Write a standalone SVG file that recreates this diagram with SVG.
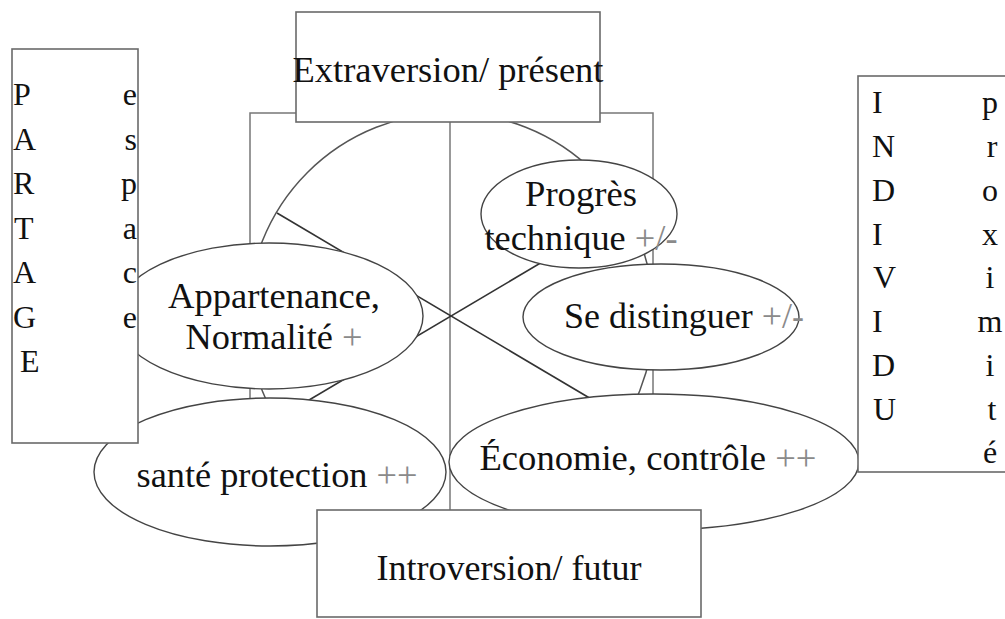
<svg xmlns="http://www.w3.org/2000/svg" width="1005" height="619" viewBox="0 0 1005 619">
<style>
text{font-family:"Liberation Serif","Times New Roman",serif;fill:#111}
.t36{font-size:36px}
.side{font-size:32px}
.mid{text-anchor:middle}
.end{text-anchor:end}
.pm{fill:#8a8a8a}
.box{fill:#fff;stroke:#6a6a6a;stroke-width:1.6}
.ell{fill:#fff;stroke:#444;stroke-width:1.4}
.frame{fill:none;stroke:#777;stroke-width:1.5}
.circ{fill:none;stroke:#555;stroke-width:1.5}
.diag{stroke:#333;stroke-width:1.6}
</style>
<rect width="1005" height="619" fill="#fff"/>
<g id="connectors">
<rect class="frame" x="250" y="113" width="403" height="406"/>
<line class="frame" x1="450" y1="113" x2="450" y2="519"/>
<circle class="circ" cx="451" cy="316" r="203"/>
<line class="diag" x1="277" y1="213" x2="625" y2="419"/>
<line class="diag" x1="277" y1="419" x2="625" y2="213"/>
</g>
<g id="progres">
<ellipse class="ell" cx="579" cy="214" rx="98" ry="54"/>
<text class="t36 mid" x="581" y="206" textLength="112" lengthAdjust="spacingAndGlyphs">Progrès</text>
<text class="t36 mid" x="581" y="250" textLength="193" lengthAdjust="spacingAndGlyphs">technique <tspan class="pm">+/-</tspan></text>
</g>
<g id="distinguer">
<ellipse class="ell" cx="661" cy="317" rx="138" ry="53"/>
<text class="t36 mid" x="684" y="328" textLength="240" lengthAdjust="spacingAndGlyphs">Se distinguer <tspan class="pm">+/-</tspan></text>
</g>
<g id="appartenance">
<ellipse class="ell" cx="269" cy="316" rx="154" ry="73"/>
<text class="t36 mid" x="274" y="308" textLength="212" lengthAdjust="spacingAndGlyphs">Appartenance,</text>
<text class="t36 mid" x="274" y="349" textLength="177" lengthAdjust="spacingAndGlyphs">Normalité <tspan class="pm">+</tspan></text>
</g>
<g id="sante">
<ellipse class="ell" cx="270" cy="472" rx="176" ry="74"/>
<text class="t36 mid" x="277" y="487" textLength="281" lengthAdjust="spacingAndGlyphs">santé protection <tspan class="pm">++</tspan></text>
</g>
<g id="economie">
<ellipse class="ell" cx="654" cy="462" rx="205" ry="68"/>
<text class="t36 mid" x="648" y="470" textLength="337" lengthAdjust="spacingAndGlyphs">Économie, contrôle <tspan class="pm">++</tspan></text>
</g>
<g id="extraversion">
<rect class="box" x="296" y="12" width="304" height="110"/>
<text class="t36 mid" x="448" y="82" textLength="311" lengthAdjust="spacingAndGlyphs">Extraversion/ présent</text>
</g>
<g id="partage">
<rect class="box" x="12" y="49" width="126" height="394"/>
<text class="side" x="13" y="105">P</text>
<text class="side" x="13" y="149.5">A</text>
<text class="side" x="13" y="194">R</text>
<text class="side" x="14" y="238.5">T</text>
<text class="side" x="13" y="283">A</text>
<text class="side" x="13" y="327.5">G</text>
<text class="side" x="20" y="372">E</text>
<text class="side end" x="137" y="105">e</text>
<text class="side end" x="137" y="149.5">s</text>
<text class="side end" x="137" y="194">p</text>
<text class="side end" x="137" y="238.5">a</text>
<text class="side end" x="137" y="283">c</text>
<text class="side end" x="137" y="327.5">e</text>
</g>
<g id="individu">
<rect class="box" x="858" y="76" width="152" height="396"/>
<text class="side" x="872" y="113">I</text>
<text class="side" x="872" y="157">N</text>
<text class="side" x="872" y="200.5">D</text>
<text class="side" x="872" y="244.5">I</text>
<text class="side" x="873" y="288">V</text>
<text class="side" x="872" y="332">I</text>
<text class="side" x="872" y="376">D</text>
<text class="side" x="873" y="420">U</text>
<text class="side mid" x="990" y="113">p</text>
<text class="side mid" x="992" y="157">r</text>
<text class="side mid" x="990" y="200.5">o</text>
<text class="side mid" x="990" y="244.5">x</text>
<text class="side mid" x="990" y="288">i</text>
<text class="side mid" x="990" y="332">m</text>
<text class="side mid" x="990" y="376">i</text>
<text class="side mid" x="992" y="420">t</text>
<text class="side mid" x="990" y="463">é</text>
</g>
<g id="introversion">
<rect class="box" x="317" y="510" width="384" height="107"/>
<text class="t36 mid" x="509" y="580" textLength="265" lengthAdjust="spacingAndGlyphs">Introversion/ futur</text>
</g>
</svg>
